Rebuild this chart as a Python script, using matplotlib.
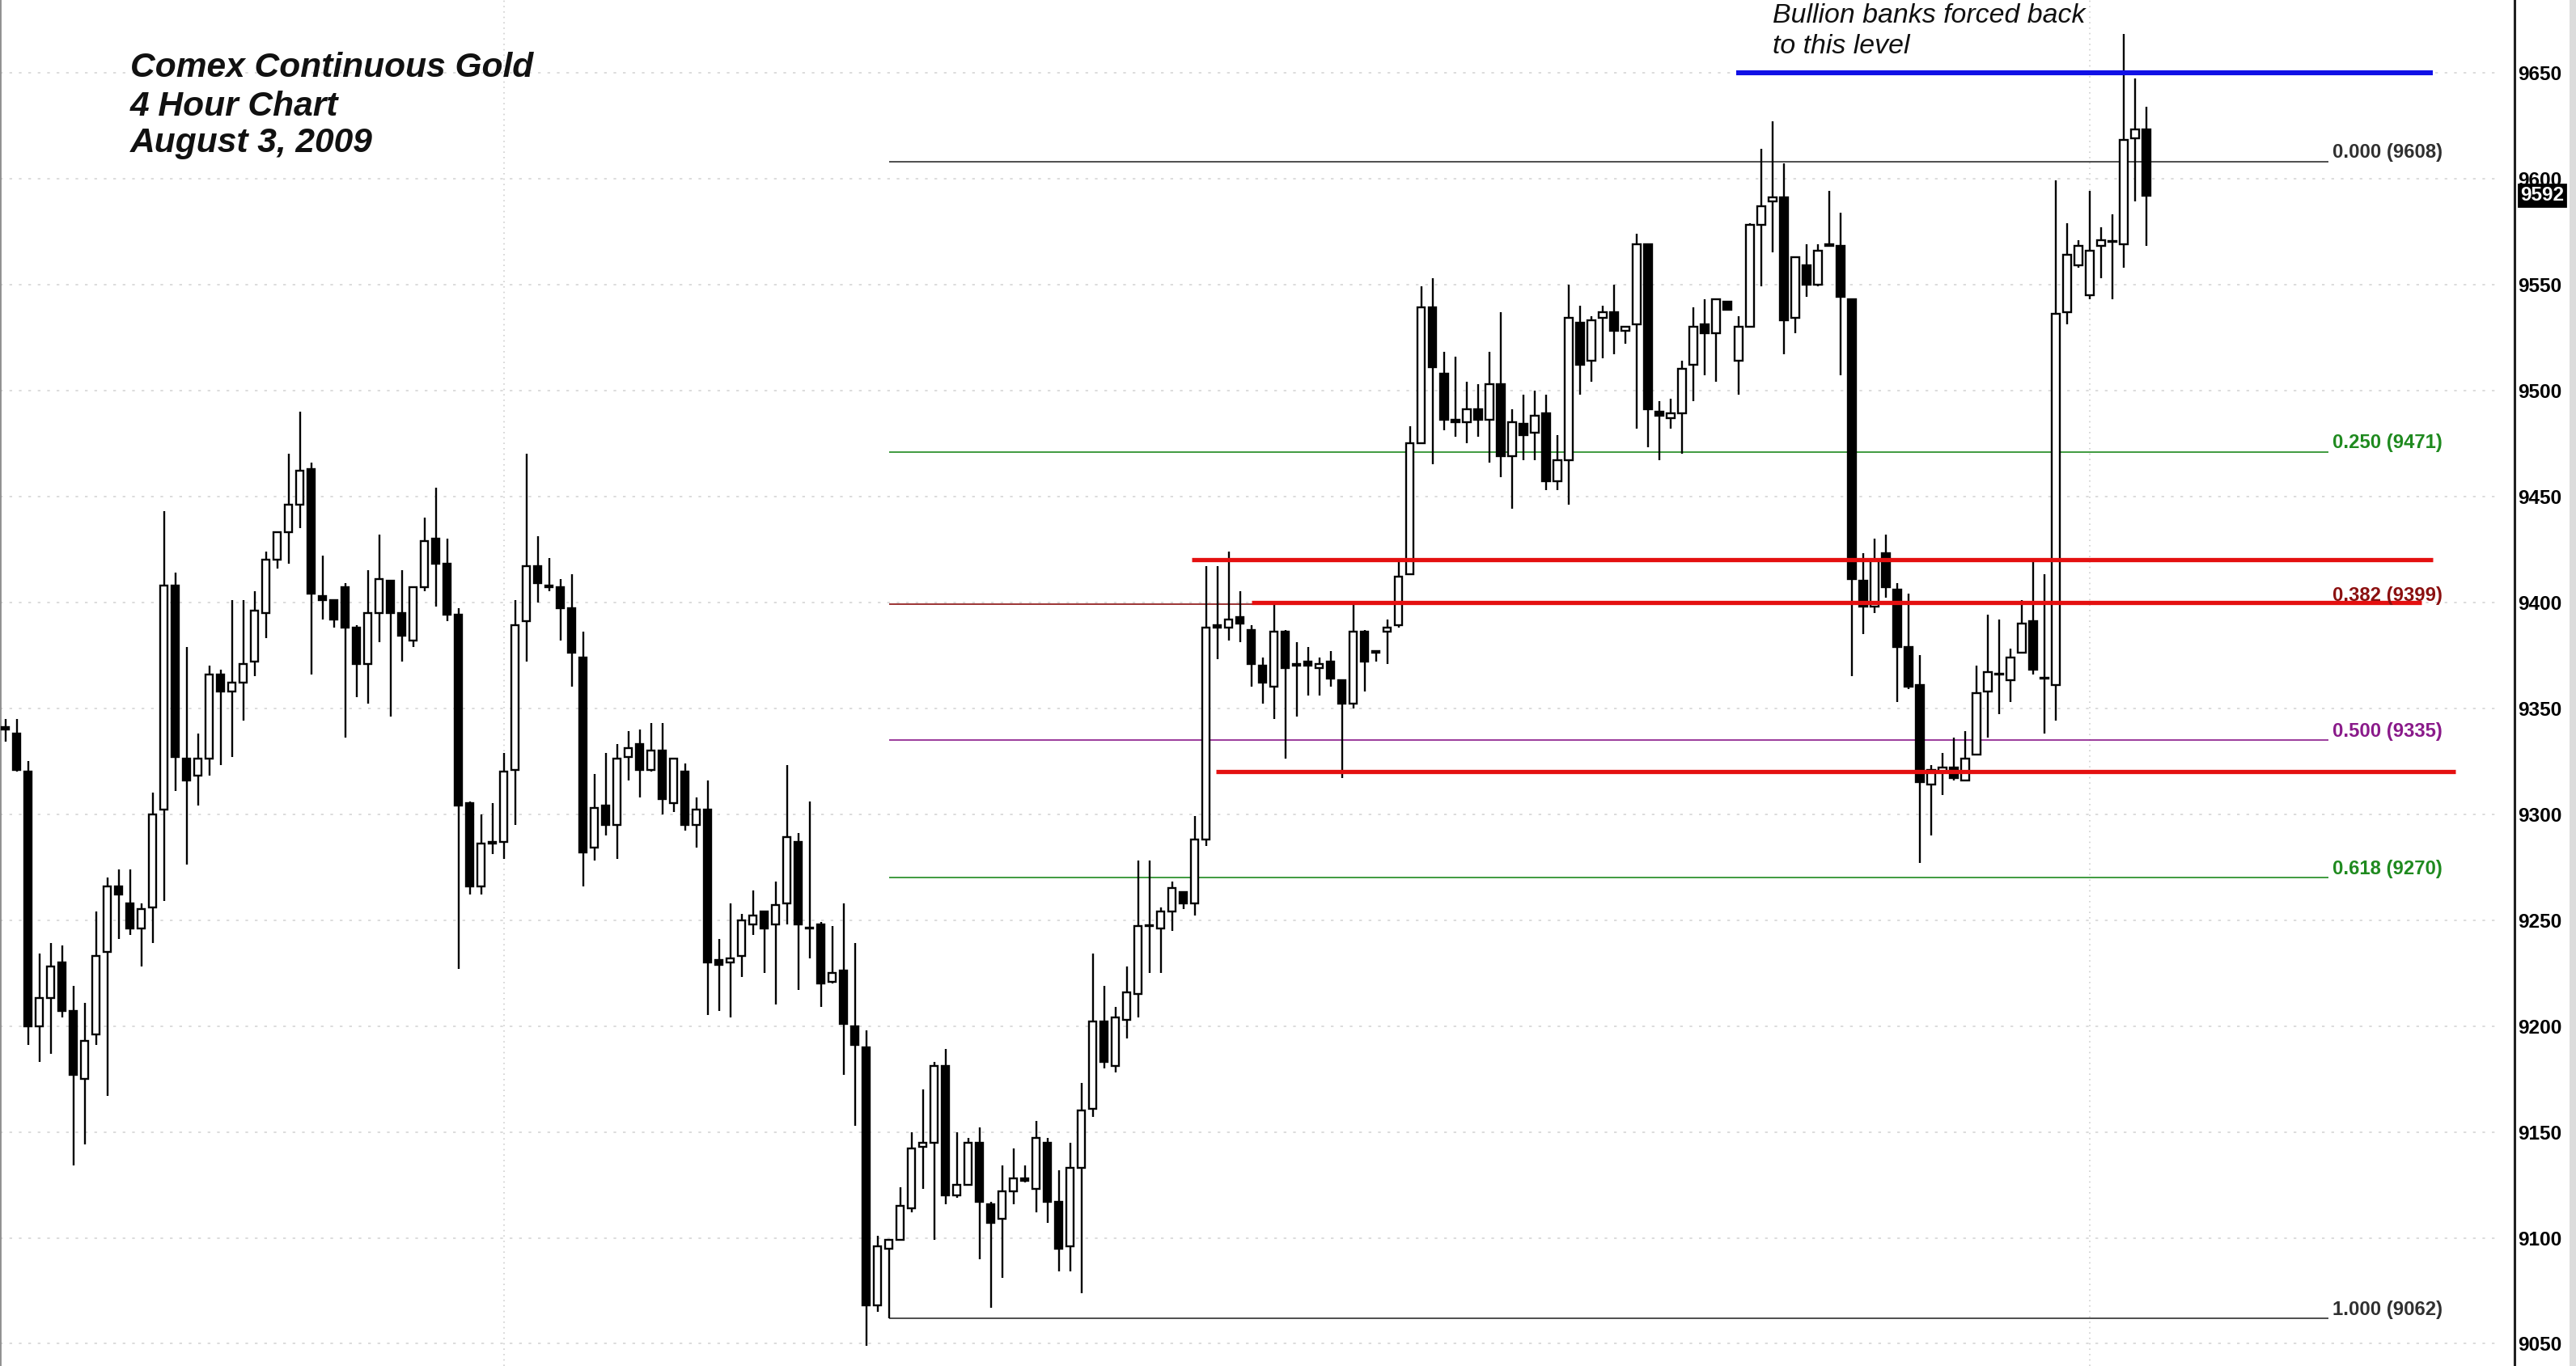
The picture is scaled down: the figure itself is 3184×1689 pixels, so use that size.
import matplotlib
matplotlib.use("Agg")
import matplotlib.pyplot as plt
from matplotlib.patches import Rectangle

# ---------------- data (4-hour candles) ----------------
opens = [9341, 9338, 9320, 9200, 9213, 9230, 9207, 9175, 9196, 9235,
         9266, 9258, 9246, 9256, 9302, 9408, 9326, 9318, 9326, 9366,
         9358, 9362, 9372, 9395, 9420, 9433, 9446, 9463, 9403, 9401,
         9407, 9388, 9371, 9395, 9410, 9395, 9382, 9407, 9430, 9418,
         9394, 9305, 9266, 9287, 9287, 9321, 9391, 9417, 9408, 9407,
         9397, 9374, 9284, 9304, 9295, 9327, 9333, 9321, 9330, 9305,
         9320, 9295, 9302, 9231, 9230, 9233, 9248, 9254, 9248, 9258,
         9287, 9246, 9248, 9221, 9226, 9200, 9190, 9068, 9095, 9099,
         9114, 9143, 9145, 9181, 9120, 9125, 9145, 9116, 9109, 9122,
         9128, 9123, 9145, 9117, 9096, 9133, 9161, 9202, 9181, 9203,
         9215, 9247, 9246, 9254, 9263, 9258, 9288, 9389, 9388, 9393,
         9387, 9370, 9360, 9386, 9370, 9372, 9369, 9372, 9363, 9352,
         9386, 9377, 9386, 9389, 9413, 9475, 9539, 9508, 9486, 9485,
         9491, 9486, 9503, 9469, 9484, 9480, 9489, 9457, 9467, 9532,
         9514, 9534, 9537, 9528, 9531, 9569, 9490, 9487, 9489, 9512,
         9531, 9527, 9542, 9514, 9530, 9578, 9589, 9591, 9534, 9559,
         9550, 9569, 9568, 9543, 9410, 9398, 9423, 9406, 9379, 9361,
         9314, 9320, 9322, 9316, 9328, 9358, 9366, 9363, 9376, 9391,
         9364, 9361, 9537, 9559, 9545, 9568, 9570, 9569, 9619, 9623]
highs = [9345, 9345, 9325, 9234, 9239, 9238, 9219, 9211, 9254, 9270,
         9274, 9274, 9258, 9310, 9443, 9414, 9379, 9338, 9370, 9368,
         9401, 9401, 9405, 9424, 9433, 9470, 9490, 9466, 9422, 9401,
         9409, 9389, 9415, 9432, 9410, 9415, 9407, 9440, 9454, 9430,
         9397, 9306, 9300, 9305, 9329, 9401, 9470, 9431, 9421, 9411,
         9413, 9386, 9319, 9329, 9333, 9339, 9340, 9343, 9343, 9326,
         9324, 9308, 9316, 9241, 9258, 9253, 9264, 9254, 9268, 9323,
         9291, 9306, 9249, 9247, 9258, 9239, 9198, 9101, 9099, 9124,
         9150, 9170, 9183, 9189, 9150, 9147, 9152, 9117, 9134, 9142,
         9134, 9155, 9147, 9132, 9145, 9173, 9234, 9219, 9209, 9228,
         9278, 9278, 9256, 9268, 9263, 9299, 9417, 9417, 9424, 9405,
         9389, 9374, 9400, 9387, 9381, 9379, 9374, 9377, 9363, 9399,
         9387, 9377, 9392, 9420, 9483, 9549, 9553, 9518, 9516, 9504,
         9503, 9518, 9537, 9491, 9498, 9500, 9498, 9479, 9550, 9540,
         9535, 9540, 9550, 9530, 9574, 9569, 9495, 9496, 9514, 9539,
         9543, 9543, 9542, 9535, 9579, 9614, 9627, 9607, 9563, 9569,
         9569, 9594, 9584, 9543, 9423, 9430, 9432, 9409, 9404, 9375,
         9323, 9329, 9336, 9339, 9370, 9394, 9392, 9378, 9401, 9420,
         9413, 9599, 9579, 9571, 9594, 9577, 9583, 9668, 9647, 9634]
lows = [9334, 9320, 9191, 9183, 9187, 9204, 9134, 9144, 9191, 9167,
        9241, 9243, 9228, 9239, 9259, 9311, 9276, 9304, 9318, 9323,
        9327, 9344, 9365, 9383, 9416, 9418, 9435, 9366, 9392, 9388,
        9336, 9355, 9352, 9381, 9346, 9372, 9379, 9405, 9398, 9391,
        9227, 9262, 9262, 9281, 9279, 9295, 9372, 9400, 9405, 9382,
        9360, 9266, 9278, 9290, 9279, 9316, 9308, 9320, 9300, 9301,
        9292, 9284, 9205, 9207, 9204, 9223, 9243, 9225, 9210, 9248,
        9217, 9232, 9209, 9220, 9177, 9153, 9049, 9065, 9062, 9099,
        9112, 9123, 9099, 9116, 9119, 9125, 9090, 9067, 9081, 9116,
        9126, 9112, 9107, 9084, 9084, 9074, 9157, 9180, 9178, 9194,
        9204, 9225, 9225, 9245, 9255, 9252, 9285, 9373, 9382, 9381,
        9360, 9352, 9345, 9326, 9346, 9356, 9356, 9360, 9317, 9350,
        9358, 9372, 9371, 9388, 9413, 9475, 9465, 9481, 9478, 9475,
        9478, 9466, 9459, 9444, 9467, 9467, 9453, 9453, 9446, 9498,
        9504, 9515, 9517, 9522, 9482, 9473, 9467, 9482, 9470, 9495,
        9507, 9504, 9538, 9498, 9530, 9549, 9565, 9517, 9527, 9544,
        9549, 9569, 9507, 9365, 9385, 9395, 9402, 9353, 9359, 9277,
        9290, 9309, 9316, 9316, 9328, 9336, 9347, 9353, 9376, 9366,
        9338, 9344, 9531, 9558, 9543, 9553, 9543, 9558, 9589, 9568]
closes = [9340, 9321, 9200, 9213, 9228, 9207, 9177, 9193, 9233, 9266,
          9262, 9246, 9255, 9300, 9408, 9327, 9316, 9326, 9366, 9358,
          9362, 9371, 9396, 9420, 9433, 9446, 9462, 9404, 9401, 9392,
          9388, 9371, 9395, 9411, 9395, 9384, 9407, 9429, 9418, 9394,
          9304, 9266, 9286, 9286, 9320, 9389, 9417, 9409, 9407, 9397,
          9376, 9282, 9303, 9295, 9326, 9331, 9321, 9330, 9307, 9326,
          9295, 9302, 9230, 9229, 9232, 9250, 9252, 9246, 9257, 9289,
          9248, 9246, 9220, 9225, 9201, 9191, 9068, 9096, 9099, 9115,
          9142, 9145, 9181, 9120, 9125, 9145, 9117, 9107, 9122, 9128,
          9127, 9147, 9117, 9095, 9133, 9160, 9202, 9183, 9204, 9216,
          9247, 9247, 9254, 9265, 9258, 9288, 9388, 9388, 9392, 9390,
          9371, 9362, 9386, 9369, 9371, 9370, 9371, 9364, 9352, 9386,
          9372, 9376, 9388, 9412, 9475, 9539, 9511, 9486, 9485, 9491,
          9486, 9503, 9469, 9485, 9479, 9488, 9457, 9467, 9534, 9512,
          9533, 9537, 9528, 9530, 9569, 9491, 9488, 9489, 9510, 9530,
          9527, 9543, 9538, 9530, 9578, 9587, 9591, 9533, 9563, 9550,
          9566, 9568, 9544, 9411, 9398, 9420, 9407, 9379, 9360, 9315,
          9321, 9322, 9317, 9326, 9357, 9367, 9366, 9374, 9390, 9368,
          9364, 9536, 9564, 9568, 9566, 9571, 9570, 9618, 9623, 9592]

price_ticks = list(range(9050, 9651, 50))
last_price = 9592

fib_ratios = ["0.000", "0.250", "0.382", "0.500", "0.618", "1.000"]
fib_prices = [9608, 9471, 9399, 9335, 9270, 9062]
fib_colors = ["#303030", "#1f8a1f", "#8b1010", "#8a1a8a", "#1f8a1f", "#303030"]

red_levels = [9420, 9400, 9320]
blue_level = 9650

title_lines = ["Comex Continuous Gold", "4 Hour Chart", "August 3, 2009"]
note_lines = ["Bullion banks forced back", "to this level"]

# ---------------- figure ----------------
W, H, DPI = 3184, 1689, 200
fig = plt.figure(figsize=(W / DPI, H / DPI), dpi=DPI, facecolor="white")
ax = fig.add_axes([0.0, 0.0, 3108 / W, 1.0])
ax.set_facecolor("white")

n = len(opens)
xs = list(range(n))
ax.set_xlim(-0.48, 221.5)
ax.set_ylim(9039.5, 9684.2)

# grid (very faint dotted)
ax.hlines(price_ticks, -0.48, 220.1, colors="#d6d6d6", linestyles=(0, (2, 5)),
          linewidth=0.6, zorder=0.5)
for gx in (44, 184):
    ax.axvline(gx, color="#d0d0d0", linestyle=(0, (1, 3)), linewidth=0.6, zorder=0.5)

# candles
ax.vlines(xs, lows, highs, colors="black", linewidth=0.85, zorder=2)
body_w = 0.66
bottoms = [min(o, c) for o, c in zip(opens, closes)]
heights = [max(abs(c - o), 0.4) for o, c in zip(opens, closes)]
faces = ["white" if c >= o else "black" for o, c in zip(opens, closes)]
ax.bar(xs, heights, bottom=bottoms, width=body_w, color=faces,
       edgecolor="black", linewidth=0.85, zorder=3)

# fibonacci retracement lines
fib_x0, fib_x1 = 78, 205.1
for r, p, col in zip(fib_ratios, fib_prices, fib_colors):
    ax.hlines(p, fib_x0, fib_x1, colors=col, linewidth=0.6, zorder=1.5)
    ax.annotate(f"{r} ({p})", xy=(fib_x1, p), xytext=(1.5, 1.5),
                textcoords="offset points", ha="left", va="baseline",
                color=col, fontsize=8.6, fontweight="bold",
                family="Liberation Sans", zorder=5)

# red support / resistance lines
ax.hlines(red_levels[0], 104.7, 214.3, colors="#e41010", linewidth=1.9, zorder=4)
ax.hlines(red_levels[1], 110.0, 213.3, colors="#e41010", linewidth=1.9, zorder=4)
ax.hlines(red_levels[2], 106.9, 216.3, colors="#e41010", linewidth=1.9, zorder=4)
# blue line
ax.hlines(blue_level, 152.8, 214.3, colors="#1010e6", linewidth=2.2, zorder=4)

# axes styling
for s in ("top", "bottom"):
    ax.spines[s].set_visible(False)
ax.spines["left"].set_color("#909090")
ax.spines["left"].set_linewidth(1.4)
ax.spines["right"].set_color("#202020")
ax.spines["right"].set_linewidth(1.1)
ax.set_xticks([])
ax.yaxis.tick_right()
ax.set_yticks(price_ticks)
ax.set_yticklabels([str(t) for t in price_ticks])
ax.tick_params(axis="y", length=0, pad=1.6, labelsize=8.8)
for lab in ax.get_yticklabels():
    lab.set_fontweight("bold")
    lab.set_family("Liberation Sans")

# last price box
ax.annotate(str(last_price), xy=(1.0, last_price),
            xycoords=("axes fraction", "data"), xytext=(2.5, 0),
            textcoords="offset points", ha="left", va="center",
            color="white", fontsize=8.8, fontweight="bold",
            family="Liberation Sans", zorder=10,
            bbox=dict(boxstyle="square,pad=0.08", fc="black", ec="black"),
            annotation_clip=False)

# titles
ty = [95, 143, 188]
for line, yy in zip(title_lines, ty):
    fig.text(161 / W, 1 - yy / H, line, ha="left", va="baseline",
             fontsize=15.3, fontweight="bold", style="italic",
             family="Liberation Sans", color="#111111")

ny = [20, 57]
for line, yy in zip(note_lines, ny):
    fig.text(2191 / W, 1 - yy / H, line, ha="left", va="center",
             fontsize=12.2, style="italic", family="Liberation Sans",
             color="#111111")

# right outer border
fig.add_artist(Rectangle((3176 / W, 0), 8 / W, 1, transform=fig.transFigure,
                         facecolor="#dcdcdc", edgecolor="none"))

fig.savefig("out.png", dpi=DPI, facecolor="white")
